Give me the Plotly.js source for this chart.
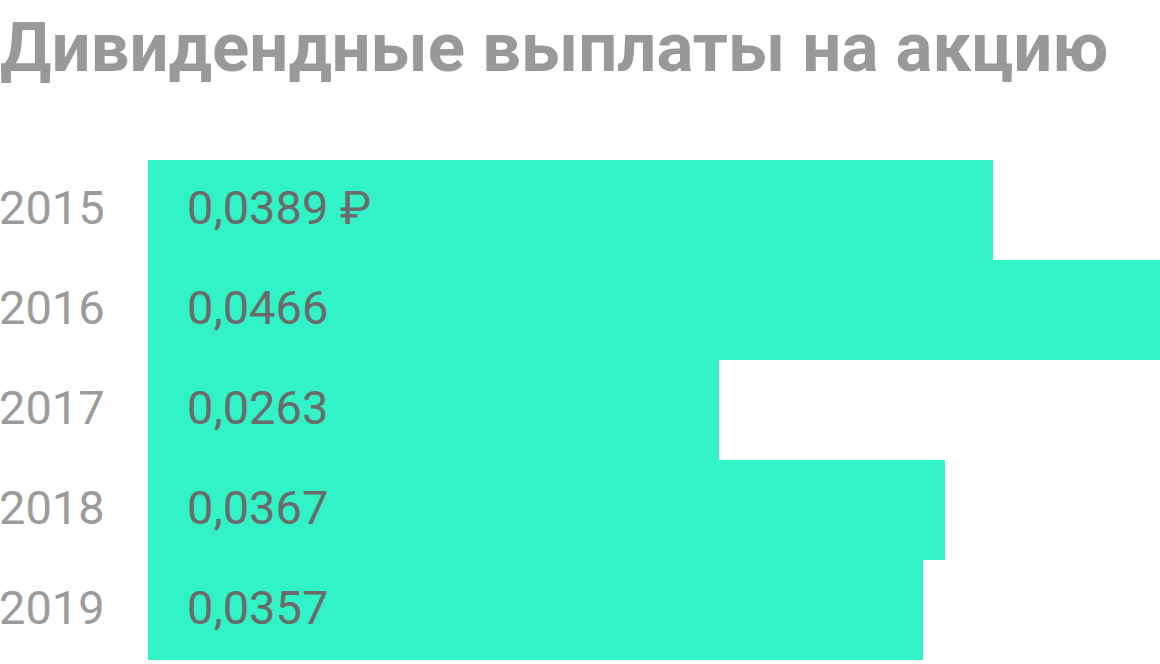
<!DOCTYPE html>
<html>
<head>
<meta charset="utf-8">
<script src="https://cdn.plot.ly/plotly-3.0.1.min.js"></script>
<style>
  html, body { margin: 0; padding: 0; background: #fff; }
  #chart { width: 1160px; height: 664px; }
</style>
</head>
<body>
<div id="chart"></div>
<script>
// Data
const years = ["2015", "2016", "2017", "2018", "2019"];
const dividends = [0.0389, 0.0466, 0.0263, 0.0367, 0.0357];
const valueLabels = ["0,0389 ₽", "0,0466", "0,0263", "0,0367", "0,0357"];

const BAR_COLOR = "#32f3c5";
const FONT = "Roboto, 'Noto Sans', sans-serif";

const trace = {
  type: "bar",
  orientation: "h",
  x: dividends,
  y: years,
  width: 1,
  marker: { color: BAR_COLOR, line: { width: 0 } },
  hoverinfo: "skip"
};

// value labels inside bars, years on the far left
const annotations = [];
years.forEach((yr, i) => {
  annotations.push({
    x: 0, y: i, xref: "x", yref: "y",
    text: valueLabels[i], showarrow: false,
    xanchor: "left", xshift: 37, yshift: 3,
    font: { family: FONT, size: 47, color: "#6b6b6b" }
  });
  annotations.push({
    x: -148 / 1012, y: i, xref: "paper", yref: "y",
    text: yr, showarrow: false,
    xanchor: "left", xshift: -3, yshift: 3,
    font: { family: FONT, size: 47, color: "#9b9b9b" }
  });
});

const layout = {
  width: 1160,
  height: 664,
  margin: { l: 148, r: 0, t: 160, b: 4 },
  paper_bgcolor: "#ffffff",
  plot_bgcolor: "#ffffff",
  showlegend: false,
  bargap: 0,
  title: {
    text: "<b>Дивидендные выплаты на акцию</b>",
    x: 0, xref: "container", xanchor: "left",
    y: 1 - 47 / 664, yref: "container", yanchor: "middle",
    font: { family: FONT, size: 69, color: "#999999" }
  },
  xaxis: {
    range: [0, 0.0466],
    visible: false,
    fixedrange: true
  },
  yaxis: {
    type: "category",
    categoryorder: "array",
    categoryarray: years,
    range: [years.length - 0.5, -0.5],
    autorange: false,
    showticklabels: false,
    showgrid: false,
    zeroline: false,
    showline: false,
    ticks: "",
    fixedrange: true
  },
  annotations: annotations
};

Plotly.newPlot("chart", [trace], layout, { displayModeBar: false, staticPlot: true });
</script>
</body>
</html>
